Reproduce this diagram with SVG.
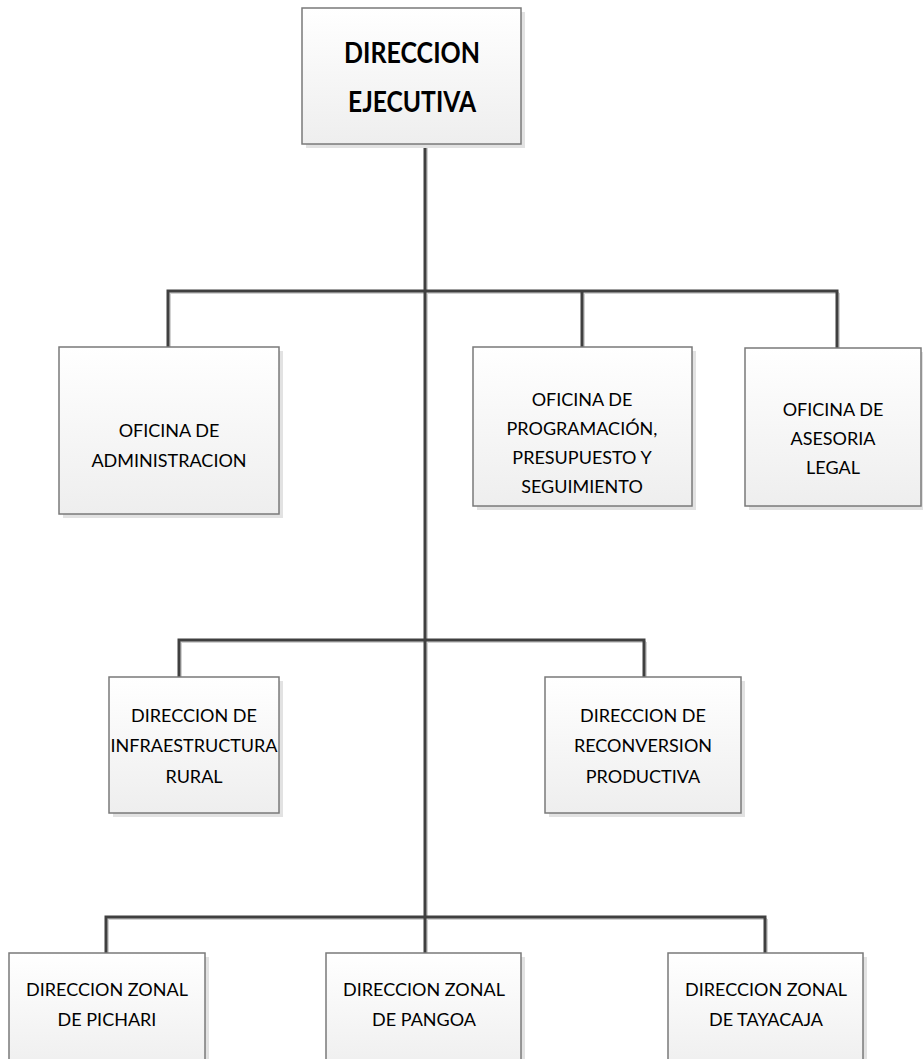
<svg xmlns="http://www.w3.org/2000/svg" width="923" height="1059" viewBox="0 0 923 1059">
  <style>
    .box { fill: url(#boxFill); stroke: #7a7a7a; stroke-width: 1.5; }
    .shadow { fill: #e2e2e2; }
    .wire { stroke: #404040; stroke-width: 3; fill: none; stroke-linecap: square; }
    .wire-sh { stroke: #d2d2d2; stroke-width: 2; fill: none; }
    .lbl { font-family: Lato, "Liberation Sans", sans-serif; font-size: 18px; fill: #000; text-anchor: middle; dominant-baseline: central; }
    .title { font-family: Lato, "Liberation Sans", sans-serif; font-size: 29px; font-weight: bold; fill: #000; text-anchor: middle; dominant-baseline: central; }
  </style>
  <defs>
    <linearGradient id="boxFill" x1="0" y1="0" x2="0" y2="1">
      <stop offset="0" stop-color="#ffffff"/>
      <stop offset="1" stop-color="#eeeeee"/>
    </linearGradient>
  </defs>

  <!-- connectors -->
  <g id="connectors">
    <g transform="translate(2,2)">
      <path class="wire-sh" d="M425 144 V1059 M168 291 H837 M168 291 V347 M582 291 V347 M837 291 V347 M179 640 H644 M179 640 V677 M644 640 V677 M106 917 H765 M106 917 V953 M765 917 V953"/>
    </g>
    <path class="wire" d="M425 144 V1059"/>
    <path class="wire" d="M168 347 V291 H837 V347 M582 291 V347"/>
    <path class="wire" d="M179 677 V640 H644 V677"/>
    <path class="wire" d="M106 953 V917 H765 V953"/>
  </g>

  <!-- top level -->
  <g id="direccion-ejecutiva">
    <rect class="shadow" x="306" y="12" width="219" height="136"/>
    <rect class="box" x="302" y="8" width="219" height="136"/>
    <text class="title" x="412" y="51" textLength="136" lengthAdjust="spacingAndGlyphs">DIRECCION</text>
    <text class="title" x="412" y="100" textLength="128" lengthAdjust="spacingAndGlyphs">EJECUTIVA</text>
  </g>

  <!-- staff offices -->
  <g id="oficina-administracion">
    <rect class="shadow" x="63" y="351" width="220" height="167"/>
    <rect class="box" x="59" y="347" width="220" height="167"/>
    <text class="lbl" x="169" y="430">OFICINA DE</text>
    <text class="lbl" x="169" y="460">ADMINISTRACION</text>
  </g>

  <g id="oficina-programacion">
    <rect class="shadow" x="477" y="351" width="219" height="159"/>
    <rect class="box" x="473" y="347" width="219" height="159"/>
    <text class="lbl" x="582" y="399">OFICINA DE</text>
    <text class="lbl" x="582" y="428">PROGRAMACIÓN,</text>
    <text class="lbl" x="582" y="457">PRESUPUESTO Y</text>
    <text class="lbl" x="582" y="486">SEGUIMIENTO</text>
  </g>

  <g id="oficina-asesoria">
    <rect class="shadow" x="749" y="352" width="176" height="158"/>
    <rect class="box" x="745" y="348" width="176" height="158"/>
    <text class="lbl" x="833" y="409">OFICINA DE</text>
    <text class="lbl" x="833" y="438">ASESORIA</text>
    <text class="lbl" x="833" y="467">LEGAL</text>
  </g>

  <!-- line directorates -->
  <g id="direccion-infraestructura">
    <rect class="shadow" x="113" y="681" width="170" height="136"/>
    <rect class="box" x="109" y="677" width="170" height="136"/>
    <text class="lbl" x="194" y="715">DIRECCION DE</text>
    <text class="lbl" x="194" y="745">INFRAESTRUCTURA</text>
    <text class="lbl" x="194" y="776">RURAL</text>
  </g>

  <g id="direccion-reconversion">
    <rect class="shadow" x="549" y="681" width="196" height="136"/>
    <rect class="box" x="545" y="677" width="196" height="136"/>
    <text class="lbl" x="643" y="715">DIRECCION DE</text>
    <text class="lbl" x="643" y="745">RECONVERSION</text>
    <text class="lbl" x="643" y="776">PRODUCTIVA</text>
  </g>

  <!-- zonal directorates -->
  <g id="zonal-pichari">
    <rect class="shadow" x="13" y="957" width="196" height="120"/>
    <rect class="box" x="9" y="953" width="196" height="120"/>
    <text class="lbl" x="107" y="989">DIRECCION ZONAL</text>
    <text class="lbl" x="107" y="1019">DE PICHARI</text>
  </g>

  <g id="zonal-pangoa">
    <rect class="shadow" x="330" y="957" width="195" height="120"/>
    <rect class="box" x="326" y="953" width="195" height="120"/>
    <text class="lbl" x="424" y="989">DIRECCION ZONAL</text>
    <text class="lbl" x="424" y="1019">DE PANGOA</text>
  </g>

  <g id="zonal-tayacaja">
    <rect class="shadow" x="672" y="957" width="195" height="120"/>
    <rect class="box" x="668" y="953" width="195" height="120"/>
    <text class="lbl" x="766" y="989">DIRECCION ZONAL</text>
    <text class="lbl" x="766" y="1019">DE TAYACAJA</text>
  </g>
</svg>
